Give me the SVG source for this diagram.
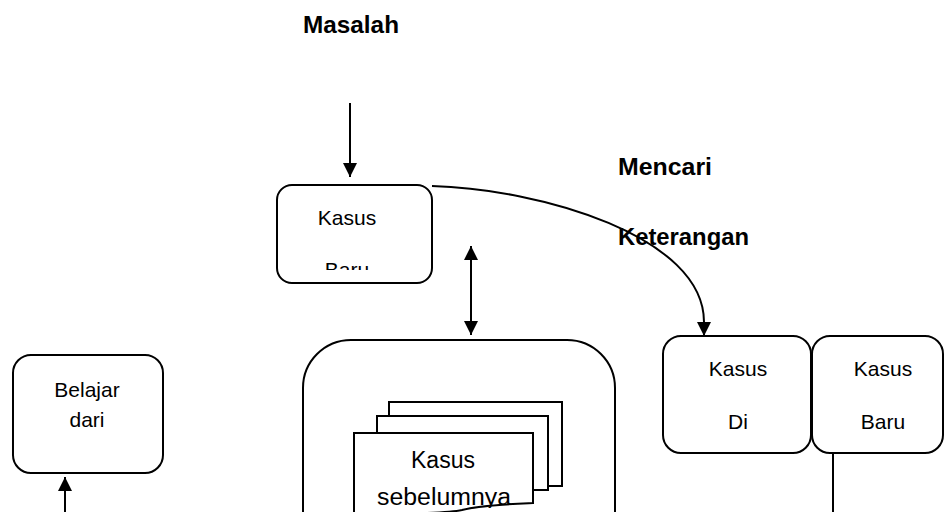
<svg xmlns="http://www.w3.org/2000/svg" width="945" height="512" viewBox="0 0 945 512">
  <defs>
    <style>
      .box { fill: #fff; stroke: #000; stroke-width: 2; }
      .doc { fill: #fff; stroke: #000; stroke-width: 2; stroke-linejoin: miter; }
      .lbl { font-family: "Liberation Sans", Arial, sans-serif; font-size: 21px; fill: #000; text-anchor: middle; }
      .doclbl { font-family: "Liberation Sans", Arial, sans-serif; font-size: 23px; fill: #000; text-anchor: middle; }
      .head { font-family: "Liberation Sans", Arial, sans-serif; font-size: 24px; font-weight: bold; fill: #000; }
      .wire { fill: none; stroke: #000; stroke-width: 2; }
    </style>
    <marker id="arrow" viewBox="0 0 14 14" refX="14" refY="7" markerWidth="14" markerHeight="14" markerUnits="userSpaceOnUse" orient="auto-start-reverse">
      <path d="M0,0 L14,7 L0,14 Z" fill="#000"/>
    </marker>
    <clipPath id="clipTop"><rect x="277" y="185" width="156" height="85"/></clipPath>
    <clipPath id="clipDoc"><rect x="354" y="433" width="180" height="75"/></clipPath>
  </defs>

  <!-- free-standing labels -->
  <text class="head" x="303" y="33" textLength="96" lengthAdjust="spacingAndGlyphs">Masalah</text>
  <text class="head" x="618" y="175" textLength="94" lengthAdjust="spacingAndGlyphs">Mencari</text>
  <text class="head" x="618" y="245" textLength="131" lengthAdjust="spacingAndGlyphs">Keterangan</text>

  <!-- case repository -->
  <g id="repository">
    <rect class="box" x="303" y="340" width="312" height="260" rx="48"/>
    <rect class="doc" x="389" y="402" width="173" height="84"/>
    <rect class="doc" x="377" y="416" width="171" height="74"/>
    <path class="doc" d="M354,433 H533 V503 C510,504 480,505 462,510 C450,513 420,514 354,514 Z"/>
    <g clip-path="url(#clipDoc)">
      <text class="doclbl" x="443" y="468">Kasus</text>
      <text class="doclbl" x="444" y="505" textLength="134" lengthAdjust="spacingAndGlyphs">sebelumnya</text>
    </g>
  </g>

  <!-- new case entering -->
  <g id="kasus-baru-top">
    <rect class="box" x="277" y="185" width="155" height="98" rx="15"/>
    <g clip-path="url(#clipTop)">
      <text class="lbl" x="347" y="225">Kasus</text>
      <text class="lbl" x="347" y="277">Baru</text>
    </g>
  </g>

  <!-- retrieved case -->
  <g id="kasus-di">
    <rect class="box" x="663" y="336" width="148" height="117" rx="18"/>
    <text class="lbl" x="738" y="376">Kasus</text>
    <text class="lbl" x="738" y="429">Di</text>
  </g>

  <!-- adapted case -->
  <g id="kasus-baru-right">
    <rect class="box" x="812" y="336" width="131" height="117" rx="18"/>
    <text class="lbl" x="883" y="376">Kasus</text>
    <text class="lbl" x="883" y="429">Baru</text>
  </g>

  <!-- learning step -->
  <g id="belajar">
    <rect class="box" x="13" y="355" width="150" height="118" rx="18"/>
    <text class="lbl" x="87" y="397">Belajar</text>
    <text class="lbl" x="87" y="427">dari</text>
  </g>

  <!-- connectors -->
  <g id="connectors">
    <line class="wire" x1="350" y1="103" x2="350" y2="177" marker-end="url(#arrow)"/>
    <line class="wire" x1="471" y1="246" x2="471" y2="335" marker-start="url(#arrow)" marker-end="url(#arrow)"/>
    <path class="wire" d="M432,186 C540,189 704,236 704,322 L704,336" marker-end="url(#arrow)"/>
    <line class="wire" x1="833" y1="453" x2="833" y2="512"/>
    <line class="wire" x1="65" y1="512" x2="65" y2="477" marker-end="url(#arrow)"/>
  </g>
</svg>
